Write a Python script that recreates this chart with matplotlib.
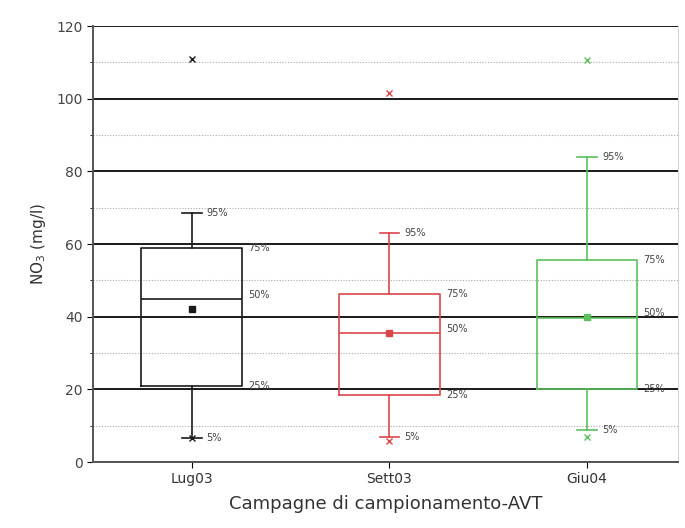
import matplotlib
matplotlib.use("Agg")
import matplotlib.pyplot as plt
from matplotlib.ticker import MultipleLocator

# Data (NO3, mg/l)
campaigns = ["Lug03", "Sett03", "Giu04"]
p5 = [6.6, 6.9, 8.8]
p25 = [20.9, 18.5, 20.1]
p50 = [44.9, 35.5, 39.7]
p75 = [59.0, 46.3, 55.6]
p95 = [68.6, 63.1, 84.0]
means = [42.1, 35.5, 39.8]
mins = [6.6, 5.8, 6.9]
maxs = [111.0, 101.6, 110.7]
colors = ["#1a1a1a", "#d9474a", "#5cc05c"]
pct_labels = ["5%", "25%", "50%", "75%", "95%"]

fig = plt.figure(figsize=(6.85, 5.28), dpi=100)
ax = fig.add_axes([93 / 685, 66 / 528, 585 / 685, 436 / 528])

positions = [1, 2, 3]
box_w = 0.51
cap_w = 0.10

# Grid: solid major, dotted minor
ax.set_ylim(0, 120)
ax.set_xlim(0.5, 3.46)
ax.yaxis.set_major_locator(MultipleLocator(20))
ax.yaxis.set_minor_locator(MultipleLocator(10))
ax.grid(True, which="major", axis="y", color="#1a1a1a", linewidth=1.4)
ax.grid(True, which="minor", axis="y", color="#aaaaaa", linewidth=0.8, linestyle=(0, (1, 1.5)))
ax.set_axisbelow(True)

for i, pos in enumerate(positions):
    c = colors[i]
    stats = [{
        "whislo": p5[i], "q1": p25[i], "med": p50[i], "q3": p75[i],
        "whishi": p95[i], "mean": means[i], "fliers": [],
    }]
    ax.bxp(stats, positions=[pos], widths=box_w, showmeans=True, showfliers=False,
           boxprops=dict(color=c, linewidth=1.2),
           medianprops=dict(color=c, linewidth=1.2),
           whiskerprops=dict(color=c, linewidth=1.2),
           capprops=dict(color=c, linewidth=1.2),
           capwidths=cap_w,
           meanprops=dict(marker="s", markerfacecolor=c, markeredgecolor=c, markersize=4))
    # min / max markers
    ax.plot(pos, maxs[i], marker="x", color=c, markersize=4, markeredgewidth=1)
    ax.plot(pos, mins[i], marker="x", color=c, markersize=4, markeredgewidth=1)

    # percentile annotations
    ax.text(pos + 0.075, p95[i], pct_labels[4], fontsize=7, color="#444444", va="center")
    ax.text(pos + 0.075, p5[i], pct_labels[0], fontsize=7, color="#444444", va="center")
    xr = pos + box_w / 2 + 0.03
    ax.text(xr, p75[i], pct_labels[3], fontsize=7, color="#444444", va="center")
    ax.text(xr, p50[i] + 1.2, pct_labels[2], fontsize=7, color="#444444", va="center")
    ax.text(xr, p25[i], pct_labels[1], fontsize=7, color="#444444", va="center")

ax.set_xticks(positions)
ax.set_xticklabels(campaigns, fontsize=10, color="#333333")
ax.tick_params(axis="y", labelsize=10, labelcolor="#444444", direction="out", length=4)
ax.tick_params(axis="y", which="minor", direction="out", length=2)
ax.tick_params(axis="x", direction="out", length=4)

for side in ["left", "bottom"]:
    ax.spines[side].set_linewidth(1.4)
    ax.spines[side].set_color("#555555")
ax.spines["top"].set_visible(False)
ax.spines["right"].set_color("#cccccc")
ax.spines["right"].set_linewidth(0.6)

ax.set_xlabel("Campagne di campionamento-AVT", fontsize=13, color="#333333", labelpad=6)
ax.set_ylabel("NO$_3$ (mg/l)", fontsize=11, color="#333333", labelpad=6)

fig.savefig("out.png", dpi=100)
